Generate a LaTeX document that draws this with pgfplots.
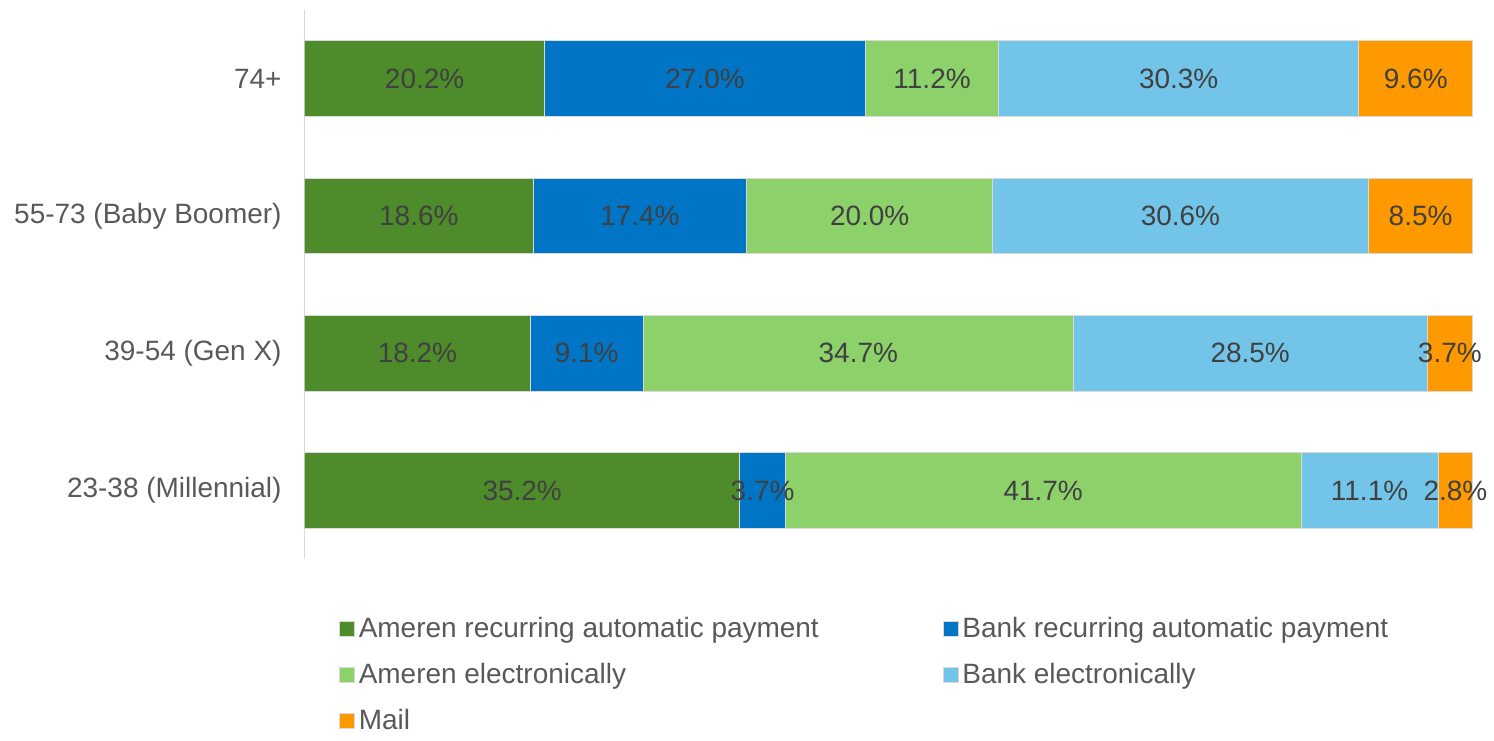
\documentclass[border=0pt]{standalone}
\usepackage{pgfplots}
\pgfplotsset{compat=1.18}
\usepackage{pgfplotstable}
\usepackage{fontspec}
\setmainfont{Liberation Sans}
\definecolor{cA}{RGB}{78,139,43}
\definecolor{cB}{RGB}{0,117,198}
\definecolor{cC}{RGB}{141,209,107}
\definecolor{cD}{RGB}{114,197,232}
\definecolor{cE}{RGB}{255,153,0}
\definecolor{txt}{RGB}{64,64,64}
\definecolor{tick}{RGB}{89,89,89}
% shares normalised to 100 per row; labels give the survey percentages
\pgfplotstableread{
pos A B C D E la lb lc ld le
3 20.549 27.467 11.394 30.824 9.766 20.2\% 27.0\% 11.2\% 30.3\% 9.6\%
2 19.558 18.297 21.030 32.177 8.938 18.6\% 17.4\% 20.0\% 30.6\% 8.5\%
1 19.321 9.660 36.837 30.255 3.927 18.2\% 9.1\% 34.7\% 28.5\% 3.7\%
0 37.249 3.915 44.127 11.746 2.963 35.2\% 3.7\% 41.7\% 11.1\% 2.8\%
}\data
\begin{document}
\begin{tikzpicture}
\begin{axis}[
  width=585pt, height=275pt, scale only axis,
  xbar stacked, bar width=0.55,
  xmin=0, xmax=100.02, ymin=-0.5, ymax=3.5,
  ytick={0,1,2,3},
  yticklabels={23-38 (Millennial),39-54 (Gen X),55-73 (Baby Boomer),74+},
  xtick=\empty,
  axis x line=none,
  axis y line*=left,
  y axis line style={draw=black!15, line width=0.8pt},
  ytick style={draw=none},
  tick label style={font=\fontsize{14}{16}\selectfont, text=tick},
  yticklabel style={xshift=-8pt},
  nodes near coords,
  point meta=explicit symbolic,
  every node near coord/.append style={font=\fontsize{14}{16}\selectfont, text=txt},
  legend columns=2,
  legend cell align=left,
  legend style={draw=none, at={(0.024,-0.09)}, anchor=north west,
    font=\fontsize{14}{16}\selectfont, text=tick,
    /tikz/every even column/.append style={column sep=60pt},
    row sep=7.5pt},
  legend image code/.code={\fill[#1] (0pt,-3.75pt) rectangle (7.5pt,3.75pt);},
  every axis plot/.append style={draw=white!85!black, line width=0.4pt},
]
\addplot[fill=cA] table[x=A, y=pos, meta=la] {\data};
\addplot[fill=cB] table[x=B, y=pos, meta=lb] {\data};
\addplot[fill=cC] table[x=C, y=pos, meta=lc] {\data};
\addplot[fill=cD] table[x=D, y=pos, meta=ld] {\data};
\addplot[fill=cE] table[x=E, y=pos, meta=le] {\data};
\legend{Ameren recurring automatic payment, Bank recurring automatic payment, Ameren electronically, Bank electronically, Mail}
\end{axis}
\path ([xshift=-152.5pt,yshift=5pt]current axis.north west) rectangle ([xshift=9.5pt,yshift=-86.5pt]current axis.south east);
\end{tikzpicture}
\end{document}
